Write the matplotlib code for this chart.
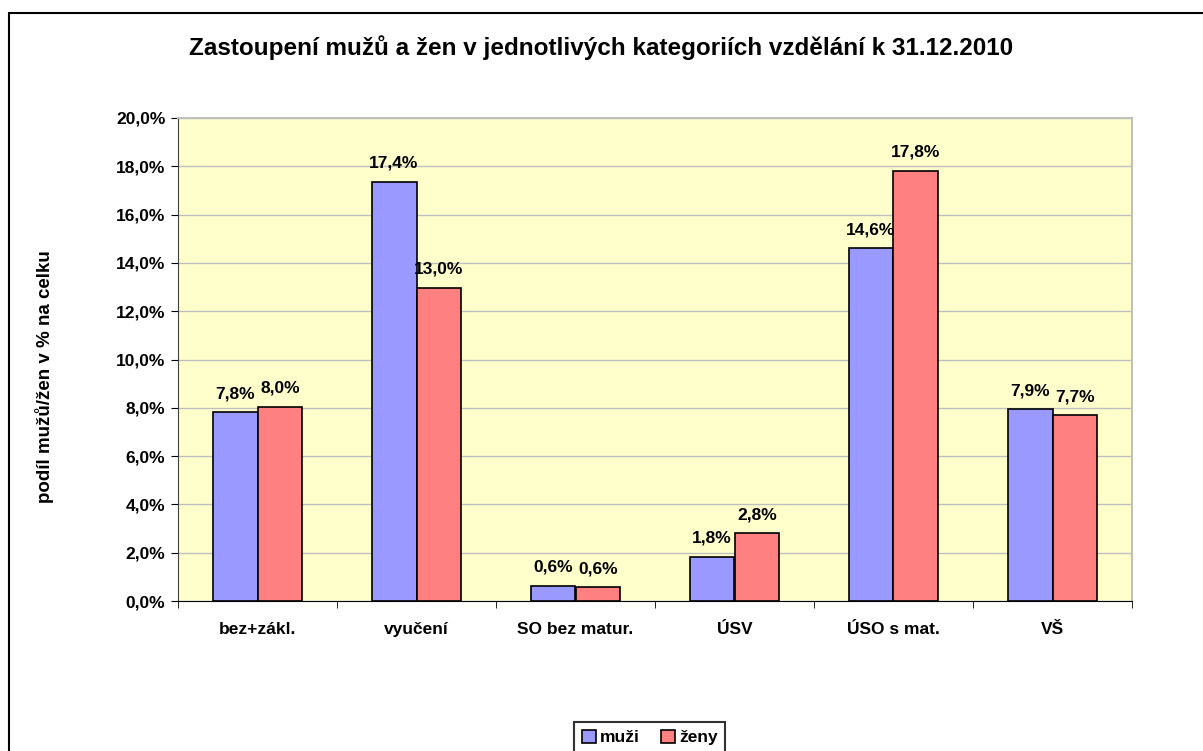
import numpy as np
import matplotlib
matplotlib.use("Agg")
import matplotlib.pyplot as plt
from matplotlib.patches import Rectangle

plt.rcParams['font.family'] = ['Liberation Sans', 'DejaVu Sans']
plt.rcParams['font.weight'] = 'bold'

# Data
categories = ['bez+zákl.', 'vyučení', 'SO bez matur.', 'ÚSV', 'ÚSO s mat.', 'VŠ']
muzi = [7.82, 17.35, 0.62, 1.82, 14.6, 7.94]
zeny = [8.03, 12.97, 0.57, 2.81, 17.82, 7.69]
series_names = ['muži', 'ženy']
title = 'Zastoupení mužů a žen v jednotlivých kategoriích vzdělání k 31.12.2010'
ylabel = 'podíl mužů/žen v % na celku'

blue = '#9999FF'
red = '#FF8080'
W, H = 1203, 751

fig = plt.figure(figsize=(W / 100, H / 100), dpi=100)
ax = fig.add_axes([178 / W, 1 - 601 / H, (1132 - 178) / W, (601 - 118) / H])
ax.set_facecolor('#FFFFCC')

x = np.arange(len(categories))
w = 0.283
b1 = ax.bar(x - w / 2, muzi, w, color=blue, edgecolor='black', linewidth=1.2,
            label=series_names[0], zorder=3)
b2 = ax.bar(x + w / 2, zeny, w, color=red, edgecolor='black', linewidth=1.2,
            label=series_names[1], zorder=3)

# popisky hodnot nad sloupci
for bars in (b1, b2):
    for r in bars:
        v = r.get_height()
        ax.annotate(f'{v:.1f}%'.replace('.', ','),
                    (r.get_x() + r.get_width() / 2, v),
                    xytext=(0, 8), textcoords='offset points',
                    ha='center', va='bottom', fontsize=12.5, fontweight='bold')

ax.set_xlim(-0.5, len(categories) - 0.5)
ax.set_ylim(0, 20)
ax.set_yticks(np.arange(0, 21, 2))
ax.set_yticklabels([f'{v:.1f}%'.replace('.', ',') for v in np.arange(0, 21, 2)],
                   fontsize=12.5, fontweight='bold')
ax.set_xticks(x)
ax.set_xticklabels(categories, fontsize=12.5, fontweight='bold')
ax.tick_params(axis='x', length=0, pad=15)
ax.set_xticks(np.arange(-0.5, len(categories), 1), minor=True)
ax.tick_params(axis='x', which='minor', length=5, direction='out', color='black')
ax.tick_params(axis='y', length=5, direction='out', color='black', pad=4)

ax.yaxis.grid(True, color='#C0C0C0', linewidth=1, zorder=0)
ax.set_axisbelow(True)
for s in ('top', 'right'):
    ax.spines[s].set_color('#C0C0C0')
    ax.spines[s].set_linewidth(1.5)
ax.spines['left'].set_color('#404040')
ax.spines['bottom'].set_color('black')

fig.text(45 / W, 1 - 377 / H, ylabel, rotation=90, ha='center', va='center',
         fontsize=13.5, fontweight='bold')

fig.text(0.5, 1 - 48 / H, title, ha='center', va='center', fontsize=17.5,
         fontweight='bold')

leg = fig.legend(loc='upper left', bbox_to_anchor=(574 / W, 1 - 722 / H), ncol=2,
                 frameon=True, fancybox=False, edgecolor='black', fontsize=12.5,
                 handlelength=0.8, handleheight=0.8, handletextpad=0.25,
                 columnspacing=1.2, borderpad=0.45, borderaxespad=0)
leg.get_frame().set_linewidth(1.5)

# vnejsi ramecek grafu (vpravo a dole oriznuty)
fig.patches.append(Rectangle((9 / W, -0.1), 1.2, 1 - 13 / H + 0.1,
                             transform=fig.transFigure, fill=False,
                             edgecolor='black', linewidth=1.5))

fig.savefig('out.png', dpi=100)
